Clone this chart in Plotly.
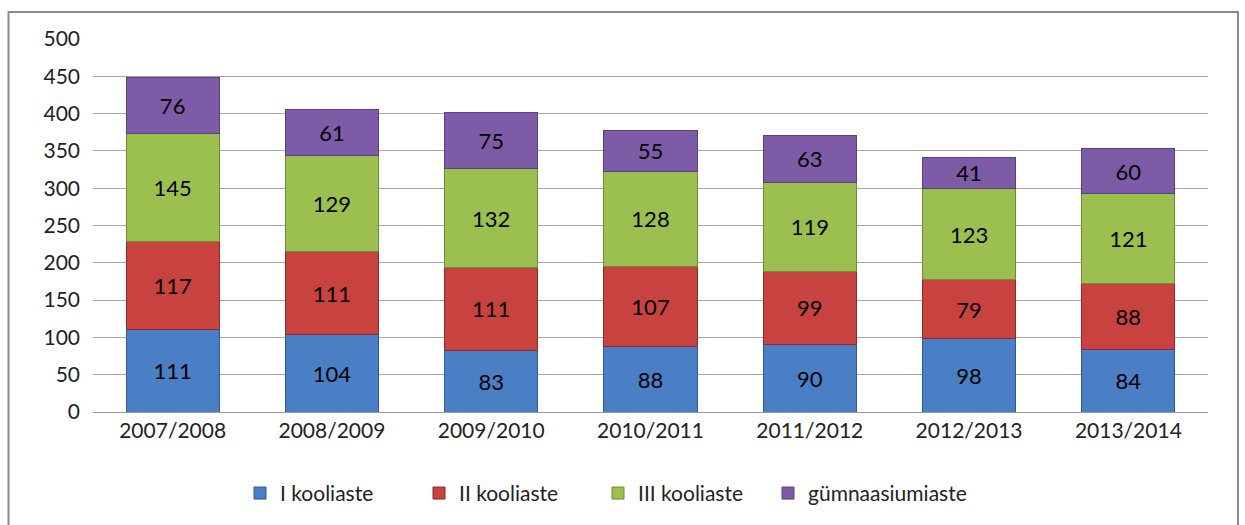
import plotly.graph_objects as go

years = ["2007/2008", "2008/2009", "2009/2010", "2010/2011", "2011/2012", "2012/2013", "2013/2014"]
s1 = [111, 104, 83, 88, 90, 98, 84]
s2 = [117, 111, 111, 107, 99, 79, 88]
s3 = [145, 129, 132, 128, 119, 123, 121]
s4 = [76, 61, 75, 55, 63, 41, 60]
names = ["I kooliaste", "II kooliaste", "III kooliaste", "gümnaasiumiaste"]
colors = ["#4A7FC6", "#C8423F", "#9CC04F", "#7D5BA6"]
edges = ["#2E5A92", "#8E2B29", "#6E8C34", "#5A3F7C"]
legend_ids = ["legend", "legend", "legend", "legend2"]

FONT = "Lato, 'Open Sans', sans-serif"
fig = go.Figure()
for name, vals, c, e, lg in zip(names, [s1, s2, s3, s4], colors, edges, legend_ids):
    fig.add_trace(go.Bar(
        x=years, y=vals, name=name, legend=lg,
        marker=dict(color=c, line=dict(color=e, width=1)),
        text=vals, textposition="inside", insidetextanchor="middle",
        textangle=0,
        textfont=dict(color="black", size=22, family=FONT),
        constraintext="none",
    ))

fig.update_layout(
    barmode="stack", bargap=0.415,
    width=1245, height=525,
    margin=dict(l=93, r=37, t=39, b=112),
    paper_bgcolor="white", plot_bgcolor="white",
    font=dict(family=FONT, size=20, color="#222"),
    legend=dict(orientation="h", x=(240 - 93) / 1115, xanchor="left", y=-0.215, yanchor="middle",
                font=dict(size=21), itemwidth=30, entrywidth=134, traceorder="normal"),
    legend2=dict(orientation="h", x=(768 - 93) / 1115, xanchor="left", y=-0.215, yanchor="middle",
                 font=dict(size=21), itemwidth=30),
    xaxis=dict(showgrid=False, showline=True, linecolor="#999", linewidth=1,
               tickfont=dict(size=21), ticks=""),
    yaxis=dict(range=[0, 500], dtick=50, showgrid=True, gridcolor="#A6A6A6", gridwidth=1,
               zeroline=False, tickfont=dict(size=21), ticks="", ticklabelstandoff=12),
    shapes=[dict(type="rect", xref="paper", yref="paper",
                 x0=(8.5 - 93) / 1115, x1=(1238 - 93) / 1115,
                 y0=(413 - 540) / 374, y1=1 + (39 - 12) / 374,
                 line=dict(color="#8C8C8C", width=2), layer="below")],
    uniformtext=dict(mode=False),
)
fig.write_html("out.html", config={"displayModeBar": False},
               post_script="document.body.style.margin='0';")
